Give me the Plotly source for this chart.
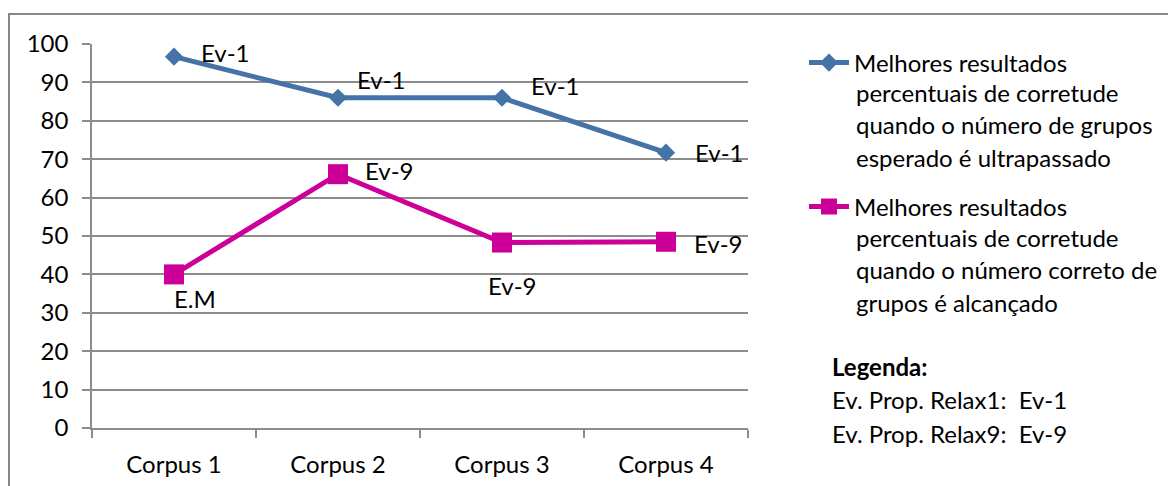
import plotly.graph_objects as go

categories = ["Corpus 1", "Corpus 2", "Corpus 3", "Corpus 4"]
blue_values = [96.7, 86.0, 86.0, 71.7]
pink_values = [40.0, 66.1, 48.3, 48.5]
blue_labels = ["Ev-1", "Ev-1", "Ev-1", "Ev-1"]
pink_labels = ["E.M", "Ev-9", "Ev-9", "Ev-9"]
legend_lines_1 = ["Melhores resultados", "percentuais de corretude",
                  "quando o número de grupos", "esperado é ultrapassado"]
legend_lines_2 = ["Melhores resultados", "percentuais de corretude",
                  "quando o número correto de", "grupos é alcançado"]
note_lines = ["<b>Legenda:</b>", "Ev. Prop. Relax1:  Ev-1", "Ev. Prop. Relax9:  Ev-9"]

BLUE = "#4572A7"
PINK = "#CC0099"
GRID = "#8C8C8C"
FONT = "Lato"
FS = 24

OFF = 8  # page body margin
W, H = 1176 - OFF, 486 - OFF
# plot area in page (screenshot) pixels
L, R, T, B = 92, 748, 44, 428


def px(x):
    return (x - L) / (R - L)


def py(y):
    return (B - y) / (B - T)


fig = go.Figure()
fig.add_trace(go.Scatter(
    x=categories, y=blue_values, mode="lines+markers", name=legend_lines_1[0],
    line=dict(color=BLUE, width=5), marker=dict(symbol="diamond", size=14, color=BLUE),
    legend="legend", cliponaxis=False))
fig.add_trace(go.Scatter(
    x=categories, y=pink_values, mode="lines+markers", name=legend_lines_2[0],
    line=dict(color=PINK, width=5), marker=dict(symbol="square", size=20, color=PINK),
    legend="legend2", cliponaxis=False))

annotations = []
blue_off = [(25, 4), (17, 18), (27, 12), (27, 0)]
pink_off = [(-2, -24), (25, 4), (-16, -43), (26, -2)]
for cat, v, lab, (dx, dy) in zip(categories, blue_values, blue_labels, blue_off):
    annotations.append(dict(x=cat, y=v, xref="x", yref="y", text=lab, showarrow=False,
                            xanchor="left", yanchor="middle", xshift=dx, yshift=dy,
                            font=dict(family=FONT, size=FS, color="black")))
for cat, v, lab, (dx, dy) in zip(categories, pink_values, pink_labels, pink_off):
    annotations.append(dict(x=cat, y=v, xref="x", yref="y", text=lab, showarrow=False,
                            xanchor="left", yanchor="middle", xshift=dx, yshift=dy,
                            font=dict(family=FONT, size=FS, color="black")))

for i, line in enumerate(legend_lines_1[1:]):
    annotations.append(dict(x=px(854), y=py(92 + 32.5 * i), xref="paper", yref="paper",
                            text=line, showarrow=False, xanchor="left", yanchor="middle",
                            font=dict(family=FONT, size=FS, color="black")))
for i, line in enumerate(legend_lines_2[1:]):
    annotations.append(dict(x=px(854), y=py(237 + 32.5 * i), xref="paper", yref="paper",
                            text=line, showarrow=False, xanchor="left", yanchor="middle",
                            font=dict(family=FONT, size=FS, color="black")))
for i, line in enumerate(note_lines):
    annotations.append(dict(x=px(830), y=py(366 + 33.5 * i), xref="paper", yref="paper",
                            text=line, showarrow=False, xanchor="left", yanchor="middle",
                            font=dict(family=FONT, size=FS, color="black")))

fig.update_layout(
    width=W, height=H,
    margin=dict(l=L - OFF, r=W - (R - OFF), t=T - OFF, b=H - (B - OFF)),
    paper_bgcolor="white", plot_bgcolor="white",
    font=dict(family=FONT, size=FS, color="black"),
    showlegend=True,
    legend=dict(x=px(804), y=py(63), xanchor="left", yanchor="middle",
                font=dict(family=FONT, size=FS, color="black"), bgcolor="rgba(0,0,0,0)",
                itemwidth=40),
    legend2=dict(x=px(804), y=py(207), xanchor="left", yanchor="middle",
                 font=dict(family=FONT, size=FS, color="black"), bgcolor="rgba(0,0,0,0)",
                 itemwidth=40),
    annotations=annotations,
    shapes=[dict(type="rect", xref="paper", yref="paper",
                 x0=px(9), x1=px(1190), y0=py(14), y1=py(500),
                 line=dict(color="#878787", width=2), fillcolor="rgba(0,0,0,0)", layer="below")],
)
fig.update_xaxes(
    type="category", range=[-0.5, 3.5], showgrid=False, zeroline=False, automargin=False,
    showline=True, linecolor=GRID, linewidth=1.5,
    ticks="outside", tickson="boundaries", ticklen=8, tickcolor=GRID, tickwidth=1.5,
    ticklabelstandoff=14, tickfont=dict(family=FONT, size=FS, color="black"))
fig.update_yaxes(
    range=[0, 100], dtick=10, showgrid=True, gridcolor=GRID, gridwidth=1.5, zeroline=False,
    automargin=False,
    showline=True, linecolor=GRID, linewidth=1.5,
    ticks="outside", ticklen=8, tickcolor=GRID, tickwidth=1.5,
    ticklabelstandoff=9, tickfont=dict(family=FONT, size=FS, color="black"))

fig.write_html("out.html")
